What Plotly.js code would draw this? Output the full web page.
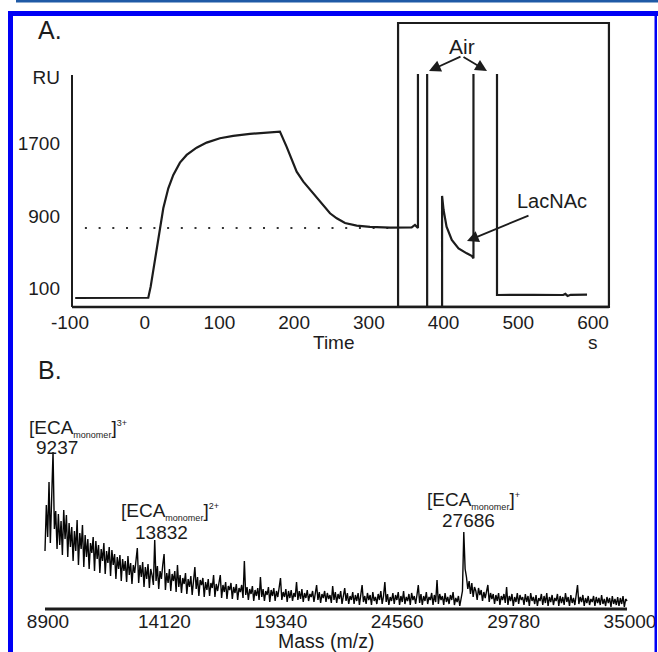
<!DOCTYPE html>
<html>
<head>
<meta charset="utf-8">
<script src="https://cdn.plot.ly/plotly-3.0.1.min.js"></script>
<style>html,body{margin:0;padding:0;background:#fff;}#chart{width:658px;height:652px;}</style>
</head>
<body>
<div id="chart"></div>
<script>
// ---------- Panel A: SPR sensorgram (time in s, response in RU) ----------
const timeA = [-93, 4.8, 8.0, 11.5, 15.1, 19.5, 24.9, 31.6, 38.3, 47.2, 56.2, 69.5, 82.9, 100.7, 118.5, 140.9, 163.2, 181.0,
               190.0, 196.7, 203.4, 212.3, 223.5, 234.6, 248.0, 257.0, 268.1, 283.7, 301.5, 328.3, 357.3, 361.7, 365.7, 365.7, null,
               378, 378, null,
               398, 398, 400, 404, 411, 420, 431, 438, 440, 440, null,
               471.5, 471.5, 520, 560, 563, 566, 570, 592];
const ruA   = [-5, -2, 120, 304, 506, 746, 985, 1206, 1353, 1489, 1574, 1654, 1710, 1758, 1784, 1806, 1820, 1831,
               1663, 1518, 1389, 1279, 1168, 1058, 930, 875, 823, 793, 779, 771, 775, 801, 768, 2467, null,
               2467, -104, null,
               -104, 1121, 966, 782, 635, 543, 488, 458, 433, 2467, null,
               2467, 28, 30, 28, 40, 18, 30, 32];
const dotTime = [-80, 330];
const dotRU = [768, 768];
const timeTicks = [-100, 0, 100, 200, 300, 400, 500, 600];
const timeTickText = ['-100', '0', '100', '200', '300', '400', '500', '600'];
const ruTickVals = [100, 900, 1700, 2434];
const ruTickText = ['100', '900', '1700', 'RU'];

// ---------- Panel B: mass spectrum (m/z from 8900 in steps of 60) ----------
const massStart = 8900;
const massStep = 60;
const intensity = [
 58,104,72,127,66,112,157,80,98,60,
 95,64,88,54,99,70,94,52,86,62,
 82,48,78,58,89,44,76,60,84,42,
 74,52,70,40,66,56,72,38,68,50,
 64,36,60,48,66,35,58,46,62,33,
 59,44,55,30,52,40,54,28,50,38,
 48,27,53,34,46,25,44,36,49,61,
 26,44,32,47,22,42,30,45,21,40,
 34,24,69,28,43,20,38,30,44,55,
 19,36,26,40,18,35,28,38,17,44,
 22,34,16,31,25,36,15,30,22,33,
 14,28,42,20,32,13,29,24,31,12,
 27,19,30,13,26,21,34,12,25,18,
 29,34,11,24,17,27,10,23,19,26,
 10,22,16,25,9,21,17,24,11,48,
 14,22,9,20,15,23,8,19,13,21,
 9,32,12,20,8,18,14,22,7,19,
 13,21,8,18,12,20,31,9,17,12,
 20,7,18,11,19,8,16,12,27,9,
 18,10,20,7,16,11,19,8,15,12,
 18,7,14,24,9,17,6,15,11,18,
 7,16,10,14,6,23,9,17,6,15,
 10,18,5,14,21,8,16,5,13,9,
 17,5,14,8,16,4,15,24,7,13,
 5,16,9,14,4,17,8,12,5,15,
 9,18,5,13,27,7,15,4,12,8,
 16,5,14,9,17,4,13,7,18,5,
 12,8,15,4,16,9,13,5,14,24,
 6,15,4,13,8,17,5,12,9,16,
 4,14,7,29,5,15,9,13,4,16,
 7,12,5,14,9,17,4,11,7,13,
 3,9,18,77,40,32,20,28,15,26,
 12,22,18,9,21,14,19,8,17,11,
 18,24,7,16,10,15,5,14,8,16,
 4,13,9,15,6,22,4,13,8,15,
 3,12,7,16,5,14,9,12,4,15,
 7,13,3,16,8,12,5,14,3,11,
 8,15,4,13,6,16,3,12,7,14,
 4,11,8,15,3,13,6,12,4,16,
 7,12,3,14,6,11,4,13,24,5,
 12,7,14,3,11,6,13,4,10,7,
 13,3,12,6,11,4,14,5,10,3,
 12,6,11,2,13,5,10,4,12,3,
 11,5,13,2,10,8
];
const massTicks = [8900, 14120, 19340, 24560, 29780, 35000];
const massTickText = ['8900', '14120', '19340', '24560', '29780', '35000'];
const peakMass = [9237, 13832, 27686];
const peakLabel = ['9237', '13832', '27686'];
const peakCharge = ['3+', '2+', '+'];

// ---------- helpers for page positions (pixels -> paper fraction) ----------
const W = 658, H = 652;
const px = x => x / W;
const py = y => 1 - y / H;
const FONT = 'Liberation Sans, Arial, Helvetica, sans-serif';
const INK = '#1c1c1c';

const traces = [
  {x: dotTime, y: dotRU, xaxis: 'x', yaxis: 'y', mode: 'lines',
   line: {color: '#333', width: 2, dash: '2px,11.7px'}, hoverinfo: 'skip'},
  {x: timeA, y: ruA, xaxis: 'x', yaxis: 'y', mode: 'lines', connectgaps: false,
   line: {color: INK, width: 2.2}},
  {y: intensity, x0: massStart, dx: massStep, xaxis: 'x2', yaxis: 'y2', mode: 'lines',
   line: {color: '#050505', width: 1.4}}
];

const ann = [];
function txt(t, x, y, size, opts) {
  ann.push(Object.assign({text: t, x: px(x), y: py(y), xref: 'paper', yref: 'paper',
    showarrow: false, font: {family: FONT, size: size, color: INK},
    xanchor: 'center', yanchor: 'middle'}, opts || {}));
}
function arrow(tx, ty, fx, fy) {
  ann.push({text: '', x: px(tx), y: py(ty), xref: 'paper', yref: 'paper', showarrow: true,
    ax: fx - tx, ay: fy - ty, arrowhead: 2, arrowsize: 1.3, arrowwidth: 1.8,
    arrowcolor: INK, standoff: 0, startstandoff: 0});
}
txt('A.', 50, 30, 25);
txt('B.', 50, 370, 25);
txt('Air', 462, 46, 21);
arrow(429, 71, 462, 56);
arrow(487, 71, 462, 56);
txt('LacNAc', 552, 201, 20);
arrow(467, 241, 530, 215);
txt('Time', 334, 342, 19);
txt('s', 593, 342, 19);
txt('Mass (m/z)', 326, 641, 19.5);

// peak labels for panel B
const labelLeft = [27, 119, 425];
const labelNameY = [428, 511, 500];
const labelNumX = [57, 161, 468];
const labelNumY = [447, 532, 520];
for (let i = 0; i < peakMass.length; i++) {
  txt('[ECA<sub><span style="font-size:9px">monomer</span></sub>]<sup><span style="font-size:9px">' + peakCharge[i] + '</span></sup>',
      labelLeft[i], labelNameY[i], 19, {xanchor: 'left'});
  txt(peakLabel[i], labelNumX[i], labelNumY[i], 19);
}

const shapes = [
  // page decorations
  {type: 'rect', xref: 'paper', yref: 'paper', x0: px(16), x1: px(658), y0: py(0), y1: py(2.5), fillcolor: '#1f5aa6', line: {width: 0}},
  {type: 'rect', xref: 'paper', yref: 'paper', x0: px(8), x1: px(658), y0: py(11), y1: py(16), fillcolor: '#0000f5', line: {width: 0}},
  {type: 'rect', xref: 'paper', yref: 'paper', x0: px(8), x1: px(13), y0: py(11), y1: py(652), fillcolor: '#0000f5', line: {width: 0}},
  {type: 'rect', xref: 'paper', yref: 'paper', x0: px(654.5), x1: px(657), y0: py(11), y1: py(652), fillcolor: '#0000f5', line: {width: 0}},
  // panel A axes and inset box
  {type: 'line', xref: 'x', yref: 'y', x0: -97.3, x1: -97.3, y0: -104, y1: 2456, line: {color: INK, width: 2}},
  {type: 'line', xref: 'x', yref: 'y', x0: -97.3, x1: 621.3, y0: -104, y1: -104, line: {color: INK, width: 2.4}},
  {type: 'rect', xref: 'x', yref: 'y', x0: 339.1, x1: 621.3, y0: -104, y1: 3030, line: {color: INK, width: 2.2}},
  // panel B axis
  {type: 'line', xref: 'x2', yref: 'paper', x0: 8900, x1: 35000, y0: py(609), y1: py(609), line: {color: INK, width: 3}}
];

const axisFont = {family: FONT, size: 19, color: INK};
const layout = {
  width: W, height: H, margin: {l: 0, r: 0, t: 0, b: 0},
  paper_bgcolor: '#fff', plot_bgcolor: 'rgba(0,0,0,0)', showlegend: false,
  xaxis: {domain: [px(61), px(625)], range: [-112.0, 642.8], anchor: 'y',
          showgrid: false, zeroline: false, showline: false, ticks: '',
          tickmode: 'array', tickvals: timeTicks, ticktext: timeTickText, tickfont: axisFont},
  yaxis: {domain: [py(309), py(20)], range: [-126.4, 3063], anchor: 'x',
          showgrid: false, zeroline: false, showline: false, ticks: '',
          tickmode: 'array', tickvals: ruTickVals, ticktext: ruTickText, tickfont: axisFont},
  xaxis2: {domain: [px(38), px(640)], range: [8586, 35582], anchor: 'y2',
           showgrid: false, zeroline: false, showline: false, ticks: '',
           tickmode: 'array', tickvals: massTicks, ticktext: massTickText, tickfont: axisFont, ticklabelshift: 3},
  yaxis2: {domain: [py(608), py(440)], range: [1, 169], anchor: 'x2',
           showgrid: false, zeroline: false, showline: false, showticklabels: false, ticks: ''},
  annotations: ann,
  shapes: shapes
};

Plotly.newPlot('chart', traces, layout, {staticPlot: true, displayModeBar: false});
</script>
</body>
</html>
